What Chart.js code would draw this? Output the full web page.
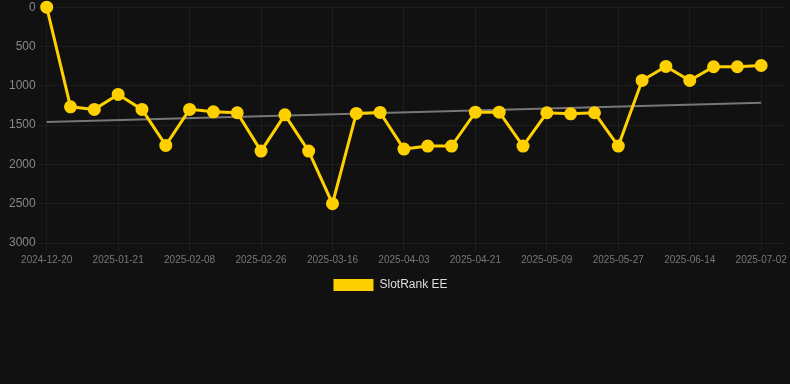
<!DOCTYPE html>
<html>
<head>
<meta charset="utf-8">
<script src="https://cdn.jsdelivr.net/npm/chart.js@4/dist/chart.umd.min.js"></script>
<style>
  html, body { margin: 0; padding: 0; background: #111111; overflow: hidden; }
  #wrap { width: 794px; height: 304px; position: relative; margin-top: -3px; }
</style>
</head>
<body>
<div id="wrap"><canvas id="rank-chart"></canvas></div>
<script>
// Datas (eixo X) - o último rótulo fica vazio, como na referência
var labels = [
    '2024-12-20', '2025-01-09', '2025-01-15', '2025-01-21', '2025-01-27', '2025-02-02',
    '2025-02-08', '2025-02-14', '2025-02-20', '2025-02-26', '2025-03-04', '2025-03-10',
    '2025-03-16', '2025-03-22', '2025-03-28', '2025-04-03', '2025-04-09', '2025-04-15',
    '2025-04-21', '2025-04-27', '2025-05-03', '2025-05-09', '2025-05-15', '2025-05-21',
    '2025-05-27', '2025-06-02', '2025-06-08', '2025-06-14', '2025-06-20', '2025-06-26',
    '2025-07-02', ''
];

// Posição no ranking
var rankValues = [
    0, 1267, 1300, 1110, 1300, 1758, 1300, 1331, 1343, 1831, 1369, 1831,
    2500, 1352, 1339, 1805, 1767, 1767, 1335, 1335, 1767, 1343, 1356, 1343,
    1767, 932, 754, 932, 758, 758, 742
];

// Linha de tendência (início e fim)
var trendValues = [1462, 1216];

var yTicks = [0, 500, 1000, 1500, 2000, 2500, 3000];

var trendData = [
    { x: labels[0], y: trendValues[0] },
    { x: labels[rankValues.length - 1], y: trendValues[1] }
];

var gridColor = 'rgba(255,255,255,0.05)';
var fontFamily = 'Liberation Sans, Arial, sans-serif';

// Desloca a legenda um pouco para a esquerda
var legendShift = {
    id: 'legendShift',
    afterLayout: function(chart) {
        if (chart.legend) {
            chart.legend.left -= 9;
            chart.legend.right -= 9;
        }
    }
};

var ctx = document.getElementById('rank-chart').getContext('2d');

new Chart(ctx, {
    type: 'line',
    data: {
        labels: labels,
        datasets: [{
            label: 'SlotRank EE',
            data: rankValues,
            borderColor: '#FFD000',
            backgroundColor: '#FFD000',
            borderWidth: 3,
            pointRadius: 5,
            pointHoverRadius: 6,
            pointBackgroundColor: '#FFD000',
            pointBorderColor: '#FFD000',
            tension: 0,
            clip: false
        }, {
            label: 'trend',
            data: trendData,
            borderColor: '#777777',
            borderWidth: 2,
            pointRadius: 0,
            fill: false
        }]
    },
    options: {
        responsive: true,
        maintainAspectRatio: false,
        animation: false,
        layout: { padding: { left: 6, right: 1, top: 0 } },
        plugins: {
            legend: {
                position: 'bottom',
                labels: {
                    color: '#dddddd',
                    boxWidth: 40,
                    boxHeight: 12,
                    font: { family: fontFamily, size: 12 },
                    generateLabels: function(chart) {
                        var items = Chart.defaults.plugins.legend.labels.generateLabels(chart);
                        return items.filter(function(item) { return item.text !== 'trend'; })
                            .map(function(item) { item.lineWidth = 0; return item; });
                    }
                }
            },
            tooltip: { enabled: false }
        },
        scales: {
            x: {
                grid: {
                    color: function(c) { return c.index % 3 === 0 ? gridColor : 'rgba(0,0,0,0)'; }
                },
                border: { display: false },
                ticks: {
                    color: '#777777',
                    padding: 3,
                    font: { family: fontFamily, size: 10 },
                    maxRotation: 0,
                    autoSkip: false,
                    callback: function(val, i) { return i % 3 === 0 ? labels[i] : ''; }
                }
            },
            y: {
                reverse: true,
                min: 0,
                max: 3000,
                afterBuildTicks: function(axis) {
                    axis.ticks = yTicks.map(function(v) { return { value: v }; });
                },
                grid: { color: gridColor },
                border: { display: false },
                ticks: {
                    color: '#888888',
                    font: { family: fontFamily, size: 12 },
                    callback: function(v) { return String(v); }
                }
            }
        }
    },
    plugins: [legendShift]
});
</script>
</body>
</html>
